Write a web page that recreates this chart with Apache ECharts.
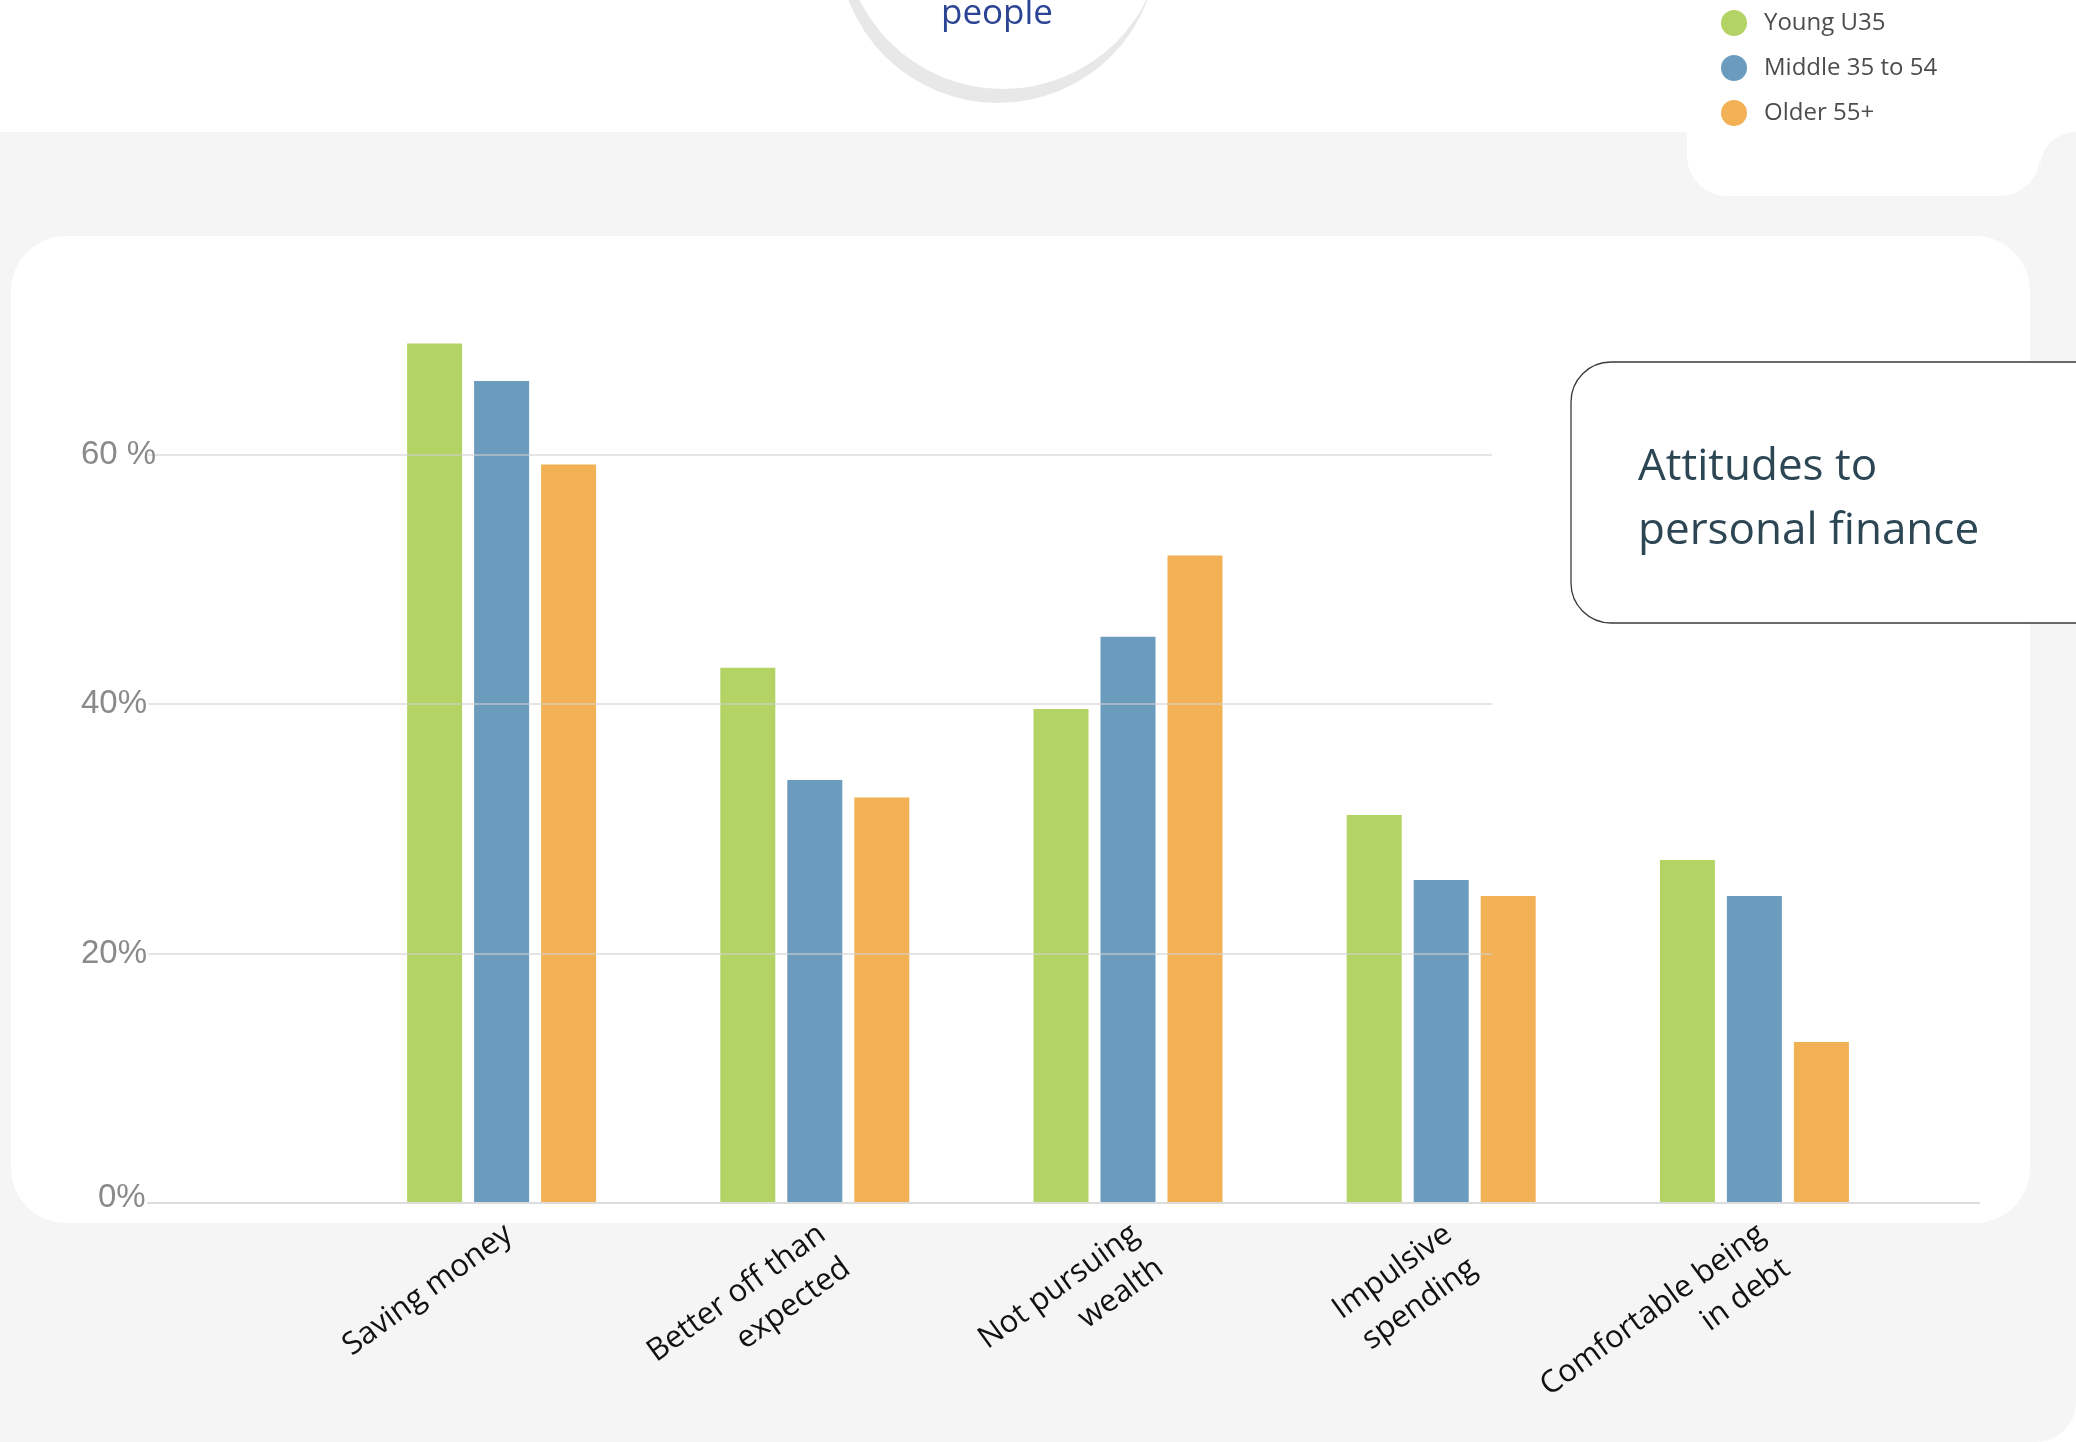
<!DOCTYPE html>
<html>
<head>
<meta charset="utf-8">
<title>Attitudes to personal finance</title>
<script src="https://cdn.jsdelivr.net/npm/echarts@6/dist/echarts.min.js"></script>
<style>
  html, body { margin: 0; padding: 0; background: #ffffff; }
  #chart { width: 2076px; height: 1442px; }
</style>
</head>
<body>
<div id="chart"></div>
<script>
// Survey categories and share of respondents (%) per age group
const categories = [
  'Saving money',
  'Better off than\nexpected',
  'Not pursuing\nwealth',
  'Impulsive\nspending',
  'Comfortable being\nin debt'
];
const seriesNames = ['Young U35', 'Middle 35 to 54', 'Older 55+'];
const youngValues = [68.9, 42.9, 39.6, 31.1, 27.5];
const middleValues = [65.9, 33.9, 45.4, 25.9, 24.6];
const olderValues = [59.2, 32.5, 51.9, 24.6, 12.9];
const seriesColors = ['#b3d465', '#6b9bbd', '#f2b155'];

// Value-axis ticks and their printed labels
const yTickValues = [0, 20, 40, 60];
const yTickLabels = ['0%', '20%', '40%', '60 %'];
const yMax = 80;

const chart = echarts.init(document.getElementById('chart'), null, { renderer: 'canvas' });

const gridTop = 205;
const gridBottom = 239;

function tickLabel(v) {
  const i = yTickValues.indexOf(v);
  if (i < 0) return '';
  return v === 0 ? '{zero|' + yTickLabels[i] + '}' : yTickLabels[i];
}

const hiddenY = (gridIndex) => ({
  gridIndex, type: 'value', min: 0, max: yMax, interval: 20, show: false
});

const option = {
  backgroundColor: '#ffffff',
  animation: false,
  grid: [
    // bars
    { left: 345, right: 165, top: gridTop, bottom: gridBottom },
    // horizontal guide lines + percentage labels
    { left: 148, right: 584, top: gridTop, bottom: gridBottom },
    // long baseline
    { left: 148, right: 97, top: gridTop, bottom: gridBottom },
    // category labels
    { left: 340, right: 170, top: gridTop, bottom: gridBottom }
  ],
  xAxis: [
    {
      gridIndex: 0, type: 'category', data: categories,
      axisLine: { show: false }, axisTick: { show: false }, axisLabel: { show: false }
    },
    {
      gridIndex: 1, type: 'value', min: 0, max: 1, show: false
    },
    {
      gridIndex: 2, type: 'value', min: 0, max: 1, z: 5,
      axisLine: { show: true, lineStyle: { color: '#dcdcdc', width: 2 } },
      axisTick: { show: false }, axisLabel: { show: false }, splitLine: { show: false }
    },
    {
      gridIndex: 3, type: 'category', data: categories, offset: 8,
      axisLine: { show: false }, axisTick: { show: false },
      axisLabel: {
        interval: 0, rotate: 36, align: 'right', verticalAlign: 'top', margin: 27,
        fontFamily: 'Open Sans', fontSize: 31, lineHeight: 42, color: '#111111'
      }
    }
  ],
  yAxis: [
    hiddenY(0),
    {
      gridIndex: 1, type: 'value', min: 0, max: yMax, interval: 20, z: 5,
      axisLine: { show: false }, axisTick: { show: false },
      splitLine: {
        show: true, showMinLine: false, showMaxLine: false,
        lineStyle: { color: 'rgba(208,208,208,0.75)', width: 1.5 }
      },
      axisLabel: {
        align: 'left', margin: 67, formatter: tickLabel,
        fontFamily: 'Liberation Sans', fontSize: 33, color: '#8a8a8a',
        rich: {
          zero: { fontFamily: 'Liberation Sans', fontSize: 33, color: '#8a8a8a', padding: [0, 0, 10, 17] }
        }
      }
    },
    hiddenY(2),
    hiddenY(3)
  ],
  legend: {
    data: seriesNames,
    orient: 'vertical',
    left: 1716, top: 5,
    itemWidth: 26, itemHeight: 26, itemGap: 19,
    icon: 'circle',
    selectedMode: false,
    textStyle: { fontFamily: 'Open Sans', fontSize: 24, color: '#4d4d4d', padding: [0, 0, 0, 12] }
  },
  series: [
    { name: seriesNames[0], data: youngValues },
    { name: seriesNames[1], data: middleValues },
    { name: seriesNames[2], data: olderValues }
  ].map((s, i) => ({
    ...s,
    type: 'bar',
    xAxisIndex: 0, yAxisIndex: 0,
    barWidth: 55, barGap: '21.8%',
    itemStyle: { color: seriesColors[i] }
  })),
  graphic: [
    // page backdrop
    { type: 'rect', z: -20, silent: true, shape: { x: 0, y: 132, width: 2076, height: 1310, r: [0, 0, 40, 0] }, style: { fill: '#f5f5f5' } },
    { type: 'rect', z: -19, silent: true, shape: { x: 2040, y: 132, width: 36, height: 40 }, style: { fill: '#ffffff' } },
    { type: 'rect', z: -18, silent: true, shape: { x: 2040, y: 132, width: 80, height: 120, r: [36, 0, 0, 0] }, style: { fill: '#f5f5f5' } },
    // legend card
    { type: 'rect', z: -17, silent: true, shape: { x: 1687, y: -60, width: 353, height: 256, r: 40 }, style: { fill: '#ffffff' } },
    // chart panel
    { type: 'rect', z: -16, silent: true, shape: { x: 11, y: 236, width: 2019, height: 987, r: 55 }, style: { fill: '#ffffff' } },
    // badge at the top
    { type: 'circle', z: -15, silent: true, shape: { cx: 998, cy: -57, r: 160 }, style: { fill: '#e8e8e8' } },
    { type: 'circle', z: -14, silent: true, shape: { cx: 1003, cy: -71, r: 160 }, style: { fill: '#ffffff' } },
    { type: 'text', z: -13, silent: true, x: 997, y: 14,
      style: { text: 'people', fill: '#2b4493', font: '35px "Open Sans"', align: 'center', verticalAlign: 'middle' } },
    // title box
    { type: 'rect', z: -12, silent: true, shape: { x: 1571, y: 362, width: 600, height: 261, r: [40, 0, 0, 40] },
      style: { fill: '#ffffff', stroke: '#3a3a3a', lineWidth: 1.3 } },
    { type: 'text', z: -11, silent: true, x: 1638, y: 499,
      style: { text: 'Attitudes to\npersonal finance', fill: '#2c4654', font: '44px "Open Sans"',
               lineHeight: 64, align: 'left', verticalAlign: 'middle' } }
  ]
};

chart.setOption(option);
</script>
</body>
</html>
